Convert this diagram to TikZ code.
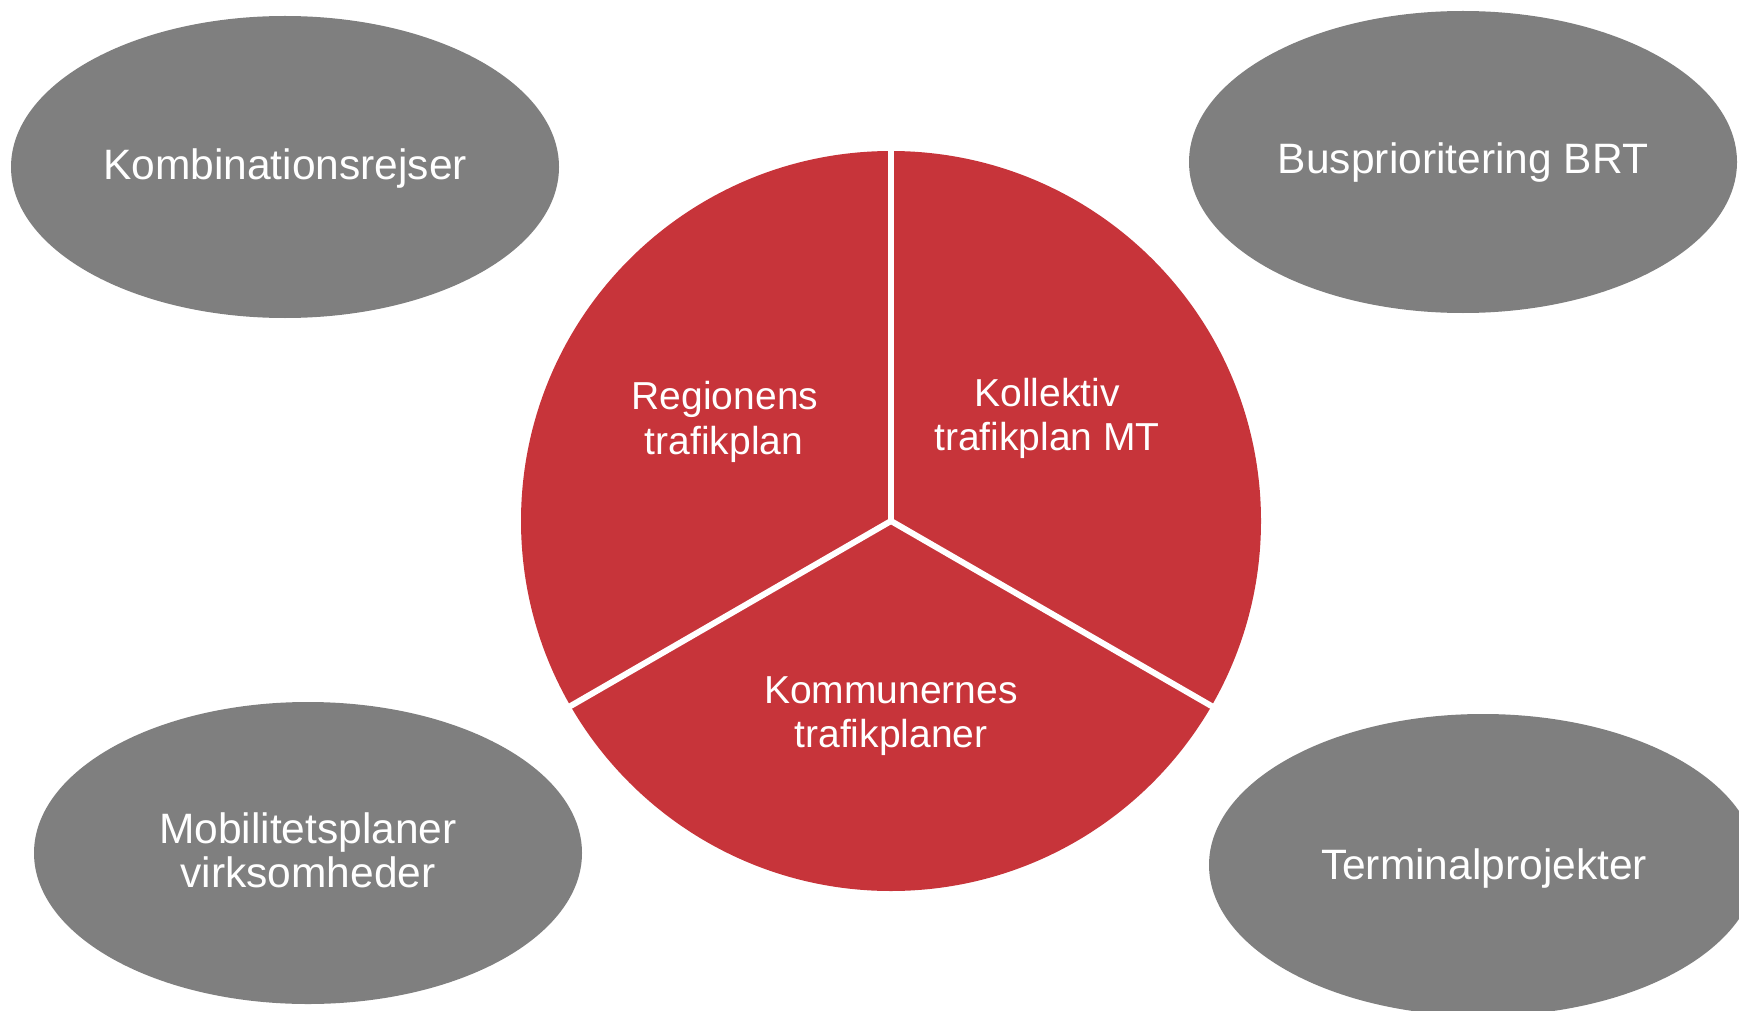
\documentclass[tikz,border=0pt]{standalone}
\usepackage{fontspec}
\setmainfont{Liberation Sans}
\usetikzlibrary{shapes.geometric}
\definecolor{piered}{RGB}{199,52,58}
\definecolor{ovalgray}{RGB}{127,127,127}
\tikzset{
  ovalnode/.style={ellipse, fill=ovalgray, draw=none, minimum width=548pt, minimum height=302pt, inner sep=0pt},
  pienode/.style={circle, fill=piered, draw=none, minimum size=740pt, inner sep=0pt},
  divider/.style={draw=white, line width=6pt, line cap=round},
  ovaltext/.style={text=white, font=\fontsize{42.5}{46}\selectfont, anchor=base, inner sep=0pt},
  pietext/.style={text=white, font=\fontsize{39}{45}\selectfont, anchor=base, inner sep=0pt}
}
\begin{document}
\begin{tikzpicture}[x=1pt,y=-1pt]
\useasboundingbox (0,0) rectangle (1739,1011);
\clip (0,0) rectangle (1739,1011);
% outer ellipses
\node[ovalnode] (komb) at (285,167) {};
\node[ovalnode] (bus) at (1463,162) {};
\node[ovalnode] (mob) at (308,853) {};
\node[ovalnode] (term) at (1483,865) {};
% central pie
\node[pienode] (pie) at (891,521) {};
\draw[divider] (pie.center) -- (pie.90);
\draw[divider] (pie.center) -- (pie.210);
\draw[divider] (pie.center) -- (pie.330);
% ellipse texts
\node[ovaltext] (kombtxt) at (285,179) {Kombinationsrejser};
\node[ovaltext] (bustxt) at (1463,174) {Busprioritering BRT};
\node[ovaltext] (mobtxta) at (308,843) {Mobilitetsplaner};
\node[ovaltext] (mobtxtb) at (308,887) {virksomheder};
\node[ovaltext] (termtxt) at (1484,879) {Terminalprojekter};
% pie texts
\node[pietext] (regtxta) at (725,409) {Regionens};
\node[pietext] (regtxtb) at (724,454) {trafikplan};
\node[pietext] (koltxta) at (1047,406) {Kollektiv};
\node[pietext] (koltxtb) at (1047,450) {trafikplan MT};
\node[pietext] (komtxta) at (891,703) {Kommunernes};
\node[pietext] (komtxtb) at (891,747) {trafikplaner};
\end{tikzpicture}
\end{document}
